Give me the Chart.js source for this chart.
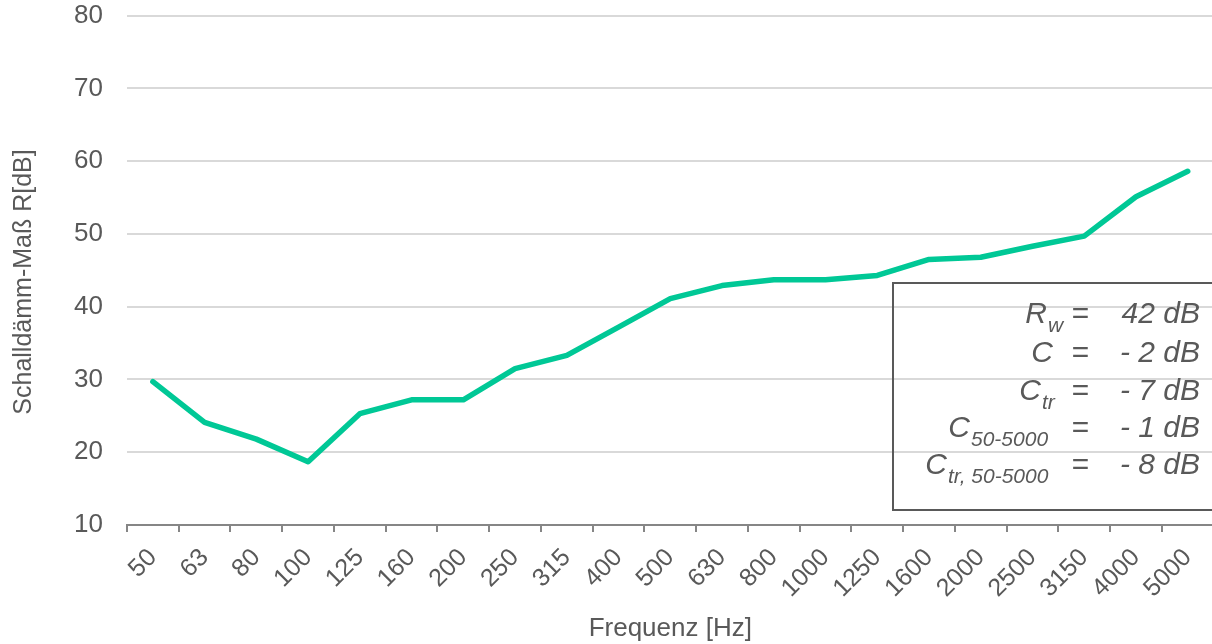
<!DOCTYPE html>
<html>
<head>
<meta charset="utf-8">
<script src="https://cdn.jsdelivr.net/npm/chart.js@4.4.1/dist/chart.umd.min.js"></script>
<style>
  html, body { margin: 0; padding: 0; background: #ffffff; overflow: hidden; }
  #wrap { position: relative; width: 1220px; height: 644px; }
</style>
</head>
<body>
<div id="wrap"><canvas id="c" width="1220" height="644"></canvas></div>
<script>
// ---- data ----
const frequencies = ['50','63','80','100','125','160','200','250','315','400','500','630','800','1000','1250','1600','2000','2500','3150','4000','5000'];
const soundReduction = [29.7, 24.1, 21.8, 18.7, 25.3, 27.2, 27.2, 31.5, 33.3, 37.2, 41.1, 42.9, 43.7, 43.7, 44.3, 46.5, 46.8, 48.3, 49.7, 55.1, 58.6];
const yTicks = [10, 20, 30, 40, 50, 60, 70, 80];
const xTitle = 'Frequenz [Hz]';
const yTitle = 'Schalldämm-Maß R[dB]';
const ratingLabels = ['R', 'C', 'C', 'C', 'C'];
const ratingSubs = ['w', '', 'tr', '50-5000', 'tr, 50-5000'];
const ratingValues = ['42 dB', '- 2 dB', '- 7 dB', '- 1 dB', '- 8 dB'];

const TEXT = '#595959';
const FONT = '"Liberation Sans", Arial, sans-serif';

const yTitlePlugin = {
  id: 'yTitle',
  afterDraw(chart) {
    const ctx = chart.ctx;
    ctx.save();
    ctx.translate(24, 282);
    ctx.rotate(-Math.PI / 2);
    ctx.font = '25px ' + FONT;
    ctx.fillStyle = TEXT;
    ctx.textAlign = 'center';
    ctx.textBaseline = 'middle';
    ctx.fillText(yTitle, 0, 0);
    ctx.restore();
  }
};

const ratingBox = {
  id: 'ratingBox',
  afterDraw(chart) {
    const ctx = chart.ctx;
    ctx.save();
    ctx.strokeStyle = '#595959';
    ctx.lineWidth = 2;
    ctx.strokeRect(893, 283, 340, 227);
    const baselines = [323, 362, 400, 437, 474];
    const labelRight = [1047, 1053, 1041, 970, 947];
    ctx.fillStyle = TEXT;
    ctx.textBaseline = 'alphabetic';
    for (let i = 0; i < ratingLabels.length; i++) {
      const b = baselines[i];
      ctx.font = 'italic 30px ' + FONT;
      ctx.textAlign = 'right';
      ctx.fillText(ratingLabels[i], labelRight[i], b);
      if (ratingSubs[i]) {
        ctx.font = 'italic 21px ' + FONT;
        ctx.textAlign = 'left';
        ctx.fillText(ratingSubs[i], labelRight[i] + 1, b + 9);
      }
      ctx.font = 'italic 30px ' + FONT;
      ctx.textAlign = 'center';
      ctx.fillText('=', 1080, b);
      ctx.textAlign = 'right';
      ctx.fillText(ratingValues[i], 1200, b);
    }
    ctx.restore();
  }
};

new Chart(document.getElementById('c'), {
  type: 'line',
  data: {
    labels: frequencies,
    datasets: [{
      data: soundReduction,
      borderColor: '#00C896',
      backgroundColor: '#00C896',
      borderWidth: 5.5,
      pointRadius: 0,
      tension: 0,
      borderCapStyle: 'round',
      borderJoinStyle: 'round',
      fill: false
    }]
  },
  options: {
    responsive: false,
    animation: false,
    devicePixelRatio: 1,
    layout: { padding: { top: 3, right: 3, left: 0, bottom: 0 } },
    plugins: { legend: { display: false }, tooltip: { enabled: false } },
    scales: {
      x: {
        offset: true,
        afterFit(axis) { axis.height = 119; },
        grid: { display: true, drawOnChartArea: false, drawTicks: true, tickLength: 7, color: '#868686', lineWidth: 2, offset: true },
        border: { display: true, color: '#868686', width: 2 },
        ticks: { color: TEXT, font: { family: FONT, size: 25 }, minRotation: 45, maxRotation: 45, autoSkip: false, padding: 11 },
        title: { display: true, text: xTitle, color: TEXT, font: { family: FONT, size: 26 }, padding: { top: 0, bottom: 0 } }
      },
      y: {
        min: 10, max: 80,
        afterBuildTicks(axis) { axis.ticks = yTicks.map(v => ({ value: v })); },
        afterFit(axis) { axis.width = 127; },
        grid: { color: '#d9d9d9', lineWidth: 2, drawTicks: true, tickLength: 24, tickColor: 'rgba(0,0,0,0)' },
        border: { display: false },
        ticks: { color: TEXT, font: { family: FONT, size: 26 }, padding: 0 },
        title: { display: false }
      }
    }
  },
  plugins: [ratingBox, yTitlePlugin]
});
</script>
</body>
</html>
